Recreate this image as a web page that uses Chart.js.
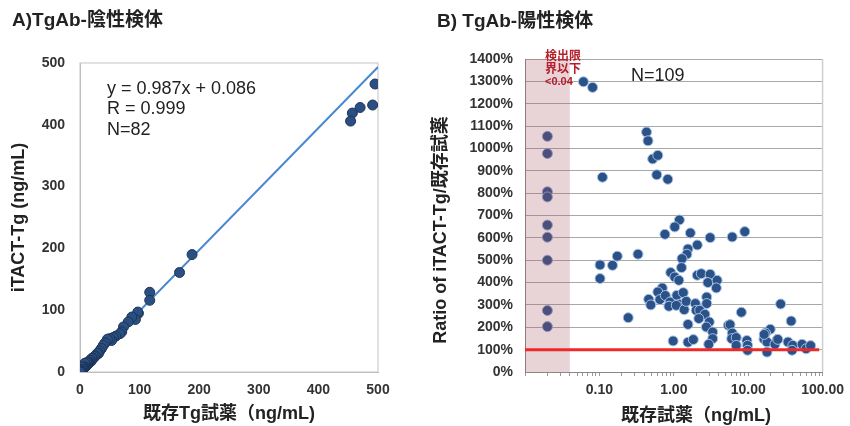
<!DOCTYPE html>
<html>
<head>
<meta charset="utf-8">
<script src="https://cdn.jsdelivr.net/npm/chart.js@4.4.0/dist/chart.umd.min.js"></script>
<style>
  body { margin: 0; background: #fff; }
  #wrap { position: relative; width: 850px; height: 426px; }
  .panel { position: absolute; top: 0; height: 426px; }
</style>
</head>
<body>
<div id="wrap">
  <div class="panel" style="left:0;width:420px"><canvas id="negChart" width="420" height="426"></canvas></div>
  <div class="panel" style="left:420px;width:430px"><canvas id="posChart" width="430" height="426"></canvas></div>
</div>
<script>
// A) TgAb-negative samples: existing Tg reagent vs iTACT-Tg (ng/mL)
const negExisting = [495, 491, 470, 457, 454, 188, 167, 117, 117,
  98, 97, 93, 87, 81, 73, 70, 67, 60, 56,
  53, 50, 46, 42, 39, 36, 33, 31, 29, 26,
  24, 22, 20, 19, 17, 16, 15, 14, 13.5, 13,
  12.5, 12, 11.5, 11, 10.5, 10, 9.5, 9, 8.5, 8,
  8, 7.5, 7, 6.6, 6.2, 5.8, 5.4, 5, 4.6, 4.3,
  4, 3.6, 3.3, 3, 3, 2.8, 2.5, 2.2, 2, 1.8,
  1.5, 1.2, 1, 0.8, 0.6, 0.5, 0.3, 0.2, 4.1, 2.4,
  1.7, 1.1, 0.1];
const negITact = [466, 432, 428, 419, 406, 190, 161, 129, 116,
  95, 97, 85, 89, 81, 73, 65, 62, 58, 56,
  51, 54, 53, 47, 43, 38, 34, 30, 30, 26,
  25, 22, 22, 18, 19, 16, 15, 16, 14, 13,
  12, 12.5, 11, 15, 10, 11, 9.8, 9.5, 8.8, 14,
  8, 7.8, 7.2, 6.4, 6.5, 6, 5.2, 5.3, 4.6, 4.5,
  4.2, 3.8, 3.1, 3.4, 8, 2.6, 2.7, 2.1, 2.2, 1.7,
  1.6, 1.3, 1.1, 0.9, 0.6, 0.4, 0.4, 0.2, 4.4, 2.5,
  1.8, 1.0, 0.1];
const fitSlope = 0.987;
const fitIntercept = 0.086;
const negMax = 500;

// B) TgAb-positive samples: ratio iTACT-Tg / existing reagent (%)
const posExisting = [0.43, 0.45, 0.52, 0.61, 0.11, 0.59, 0.83, 1.19, 1.03, 0.76,
  1.67, 3.08, 6.1, 9.0, 2.07, 1.55, 1.50, 1.29, 1.27, 0.33,
  0.174, 0.102, 0.15, 0.102, 0.91, 1.03, 1.17, 2.07, 2.34, 3.08,
  2.87, 3.82, 3.73, 0.70, 0.61, 0.65, 0.46, 0.49, 0.77, 0.89,
  0.86, 1.10, 1.34, 1.19, 1.08, 1.38, 1.47, 1.95, 2.77, 2.77,
  2.0, 2.23, 2.62, 2.17, 3.0, 2.74, 3.33, 3.33, 2.95, 1.55,
  1.55, 1.83, 0.98, 0.244, 5.4, 5.7, 6.1, 6.0, 6.9, 6.9,
  8.1, 9.6, 9.8, 9.8, 27.3, 37.8, 19.8, 17.1, 16.3, 17.9,
  17.9, 24.6, 22.9, 34.3, 39.8, 38.9, 53, 60, 69, 0.061,
  0.081, 16.4, 25];
const posRatio = [1073, 1034, 953, 969, 871, 882, 862, 680, 649, 616,
  622, 601, 604, 628, 568, 550, 527, 507, 467, 527,
  518, 479, 477, 418, 445, 425, 410, 433, 440, 437,
  400, 410, 376, 376, 358, 324, 325, 300, 342, 313,
  294, 343, 355, 303, 298, 279, 316, 306, 335, 306,
  276, 276, 258, 239, 224, 201, 179, 149, 124, 213,
  133, 145, 139, 243, 209, 212, 174, 149, 154, 119,
  267, 141, 119, 97, 304, 228, 191, 174, 147, 134,
  89, 145, 124, 134, 119, 97, 124, 104, 118, 1298,
  1273, 168, 146];
// below detection limit (<0.04), plotted at 0.02
const lodExisting = [0.02, 0.02, 0.02, 0.02, 0.02, 0.02, 0.02, 0.02, 0.02];
const lodRatio = [1054, 977, 806, 783, 657, 603, 500, 275, 203];
const lodLimit = 0.04;
const refRatio = 100;
const refLineEnd = 90;
const logMin = 0.01;
const logMax = 100;
const logLabels = { 0.1: '0.10', 1: '1.00', 10: '10.00', 100: '100.00' };

const fontFam = "'Liberation Sans', 'Noto Sans CJK JP', sans-serif";
Chart.defaults.font.family = fontFam;
Chart.defaults.color = '#333';

function toPoints(xs, ys) {
  return xs.map((x, i) => ({ x: x, y: ys[i] }));
}

function text(ctx, str, x, y, font, color, align) {
  ctx.save();
  ctx.font = font;
  ctx.fillStyle = color;
  ctx.textAlign = align || 'left';
  ctx.textBaseline = 'middle';
  ctx.fillText(str, x, y);
  ctx.restore();
}

// ---- left chart ----
const negDecor = {
  id: 'negDecor',
  beforeDatasetsDraw(chart) {
    const { ctx, chartArea: a } = chart;
    ctx.save();
    ctx.strokeStyle = '#c4c4c4';
    ctx.lineWidth = 1;
    ctx.strokeRect(a.left, a.top, a.right - a.left, a.bottom - a.top);
    ctx.restore();
  },
  afterDraw(chart) {
    const ctx = chart.ctx;
    text(ctx, 'A)TgAb-陰性検体', 12, 21, 'bold 19px ' + fontFam, '#222');
    text(ctx, 'y = 0.987x + 0.086', 107, 89, '18px ' + fontFam, '#222');
    text(ctx, 'R = 0.999', 107, 109, '18px ' + fontFam, '#222');
    text(ctx, 'N=82', 107, 130, '18px ' + fontFam, '#222');
  }
};

new Chart(document.getElementById('negChart').getContext('2d'), {
  type: 'scatter',
  data: {
    datasets: [{
      label: 'TgAb-negative',
      data: toPoints(negExisting, negITact),
      backgroundColor: '#2b4f82',
      borderColor: '#1c3558',
      borderWidth: 1,
      pointRadius: 5
    }, {
      type: 'line',
      label: 'fit',
      data: [0, negMax].map(x => ({ x: x, y: fitSlope * x + fitIntercept })),
      borderColor: '#4a88cf',
      borderWidth: 2,
      pointRadius: 0,
      fill: false
    }]
  },
  plugins: [negDecor],
  options: {
    responsive: false,
    animation: false,
    layout: { padding: { left: 0, top: 63, right: 42, bottom: 0 } },
    plugins: { legend: { display: false }, tooltip: { enabled: false } },
    scales: {
      x: {
        type: 'linear', min: 0, max: negMax,
        afterFit(scale) { scale.height = 54; },
        grid: { display: false },
        border: { color: '#bdbdbd' },
        ticks: { stepSize: 100, padding: 2, font: { size: 14, weight: 'bold' }, color: '#333', maxRotation: 0 },
        title: { display: true, text: '既存Tg試薬（ng/mL)', font: { size: 18, weight: 'bold' }, color: '#222', padding: { top: 0, bottom: 1 } }
      },
      y: {
        type: 'linear', min: 0, max: negMax,
        afterFit(scale) { scale.width = 80; },
        grid: { display: false },
        border: { color: '#bdbdbd' },
        ticks: { stepSize: 100, padding: 7, font: { size: 14, weight: 'bold' }, color: '#333' },
        title: { display: true, text: 'iTACT-Tg (ng/mL)', font: { size: 18, weight: 'bold' }, color: '#222', padding: { top: 8, bottom: 0 } }
      }
    }
  }
});

// ---- right chart ----
const logTickValues = [];
for (let d = logMin; d < logMax; d *= 10) {
  for (let m = 1; m < 10; m++) logTickValues.push(+(d * m).toPrecision(3));
}
logTickValues.push(logMax);

const posDecor = {
  id: 'posDecor',
  beforeDatasetsDraw(chart) {
    const { ctx, chartArea: a, scales } = chart;
    const xr = scales.x.getPixelForValue(lodLimit);
    ctx.save();
    ctx.fillStyle = 'rgba(165, 83, 95, 0.25)';
    ctx.fillRect(a.left, a.top, xr - a.left, a.bottom - a.top);
    ctx.strokeStyle = '#cfcfcf';
    ctx.lineWidth = 1.5;
    ctx.beginPath();
    ctx.moveTo(a.right, a.top);
    ctx.lineTo(a.right, a.bottom);
    ctx.stroke();
    ctx.restore();
  },
  afterDraw(chart) {
    const ctx = chart.ctx;
    text(ctx, 'B) TgAb-陽性検体', 17, 22, 'bold 19px ' + fontFam, '#222');
    const red = '#b3202b';
    text(ctx, '検出限', 125, 57, 'bold 12px ' + fontFam, red);
    text(ctx, '界以下', 125, 70, 'bold 12px ' + fontFam, red);
    text(ctx, '<0.04', 125, 82, 'bold 11px ' + fontFam, red);
    text(ctx, 'N=109', 211, 76, '18px ' + fontFam, '#222');
    text(ctx, '既存試薬（ng/mL)', 276, 416, 'bold 18px ' + fontFam, '#222', 'center');
    ctx.save();
    ctx.translate(21, 230);
    ctx.rotate(-Math.PI / 2);
    text(ctx, 'Ratio of iTACT-Tg/既存試薬', 0, 0, 'bold 18px ' + fontFam, '#222', 'center');
    ctx.restore();
  }
};

new Chart(document.getElementById('posChart').getContext('2d'), {
  type: 'scatter',
  data: {
    datasets: [{
      type: 'line',
      label: '100%',
      data: [logMin, refLineEnd].map(x => ({ x: x, y: refRatio })),
      borderColor: '#ec2a2a',
      borderWidth: 3,
      pointRadius: 0,
      fill: false
    }, {
      label: 'TgAb-positive',
      data: toPoints(posExisting, posRatio),
      backgroundColor: '#2a5188',
      borderColor: '#a7c2e4',
      borderWidth: 1,
      pointRadius: 5
    }, {
      label: '<0.04',
      data: toPoints(lodExisting, lodRatio),
      backgroundColor: '#4a4f7c',
      borderColor: '#9a93b4',
      borderWidth: 1,
      pointRadius: 5
    }]
  },
  plugins: [posDecor],
  options: {
    responsive: false,
    animation: false,
    layout: { padding: { left: 0, top: 59, right: 24, bottom: 0 } },
    plugins: { legend: { display: false }, tooltip: { enabled: false } },
    scales: {
      x: {
        type: 'logarithmic', min: logMin, max: logMax,
        afterFit(scale) { scale.height = 54; },
        afterBuildTicks(scale) { scale.ticks = logTickValues.map(v => ({ value: v })); },
        grid: { display: true, drawOnChartArea: false, tickLength: 4, color: '#999' },
        border: { color: '#888' },
        ticks: {
          autoSkip: false, maxRotation: 0, padding: 6,
          font: { size: 14, weight: 'bold' }, color: '#333',
          callback: v => logLabels[v] || ''
        }
      },
      y: {
        type: 'linear', min: 0, max: 1400,
        afterFit(scale) { scale.width = 105; },
        grid: { color: '#a8a8a8', lineWidth: 1, drawTicks: false },
        border: { color: '#888' },
        ticks: { stepSize: 100, padding: 12, font: { size: 14, weight: 'bold' }, color: '#333', callback: v => v + '%' }
      }
    }
  }
});
</script>
</body>
</html>
